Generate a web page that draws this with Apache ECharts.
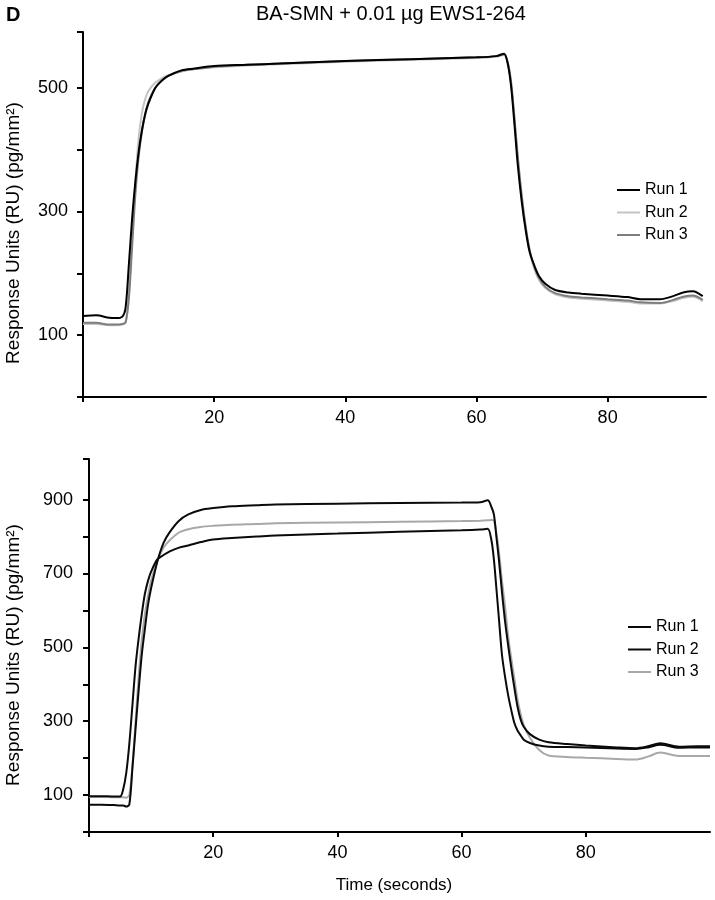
<!DOCTYPE html>
<html>
<head>
<meta charset="utf-8">
<script src="https://cdn.jsdelivr.net/npm/echarts@6/dist/echarts.min.js"></script>
<style>
html,body{margin:0;padding:0;background:#fff;}
#chart{width:715px;height:900px;}
</style>
</head>
<body>
<div id="chart"></div>
<script>
// ---------- DATA ----------
const titleText = 'BA-SMN + 0.01 \u00b5g EWS1-264';
const panelLetter = 'D';
const yAxisTitle = 'Response Units (RU) (pg/mm\u00b2)';
const xAxisTitle = 'Time (seconds)';
const runNames = ['Run 1', 'Run 2', 'Run 3'];

const xTickValues = [0, 20, 40, 60, 80];
const xLabelValues = [20, 40, 60, 80];
const topYTicks = [0, 100, 200, 300, 400, 500, 590];
const topYLabels = [100, 300, 500];
const botYTicks = [0, 100, 200, 300, 400, 500, 600, 700, 800, 900, 1010];
const botYLabels = [100, 300, 500, 700, 900];

// Top panel
const topTime = [0, 2, 4, 5, 6, 6.5, 7, 7.5, 8, 8.5, 9, 9.5, 10, 11, 12, 13, 15, 17, 20, 25, 30, 40, 50, 60, 63, 64.2, 64.8, 65.3, 65.8, 66.3, 66.9, 67.5, 68.1, 68.8, 69.5, 70.5, 72, 74, 76, 80, 83, 85, 88, 90, 91.5, 93, 94.5];
const topRun1 = [131, 132, 128, 127.5, 130, 145, 215, 290, 350, 397, 432, 458, 475, 499, 511, 519, 528, 531, 535, 537, 539, 543, 546, 549, 551, 555, 537, 500, 440, 375, 316, 270, 235, 213, 196, 183, 173, 169, 167, 164, 161.5, 158, 158, 163, 169, 171, 163];
const topRun2 = [118, 118, 116, 116, 117, 120, 165, 260, 350, 420, 460, 482, 495, 508, 515, 520, 526, 530, 533, 536, 538, 542, 545, 548, 550, 553, 538, 505, 448, 385, 322, 272, 234, 208, 190, 176, 166, 161, 159, 156, 154, 151, 151, 155, 160, 162, 155];
const topRun3 = [120, 120, 117, 117, 118, 121, 160, 245, 330, 390, 430, 458, 478, 500, 512, 519, 527, 530, 534, 537, 539, 543, 546, 549, 551, 554, 540, 507, 450, 388, 326, 276, 238, 211, 193, 178, 168, 163, 161, 158, 156, 153, 152, 157, 162, 164, 157];

// Bottom panel
const botTime = [0, 2, 4, 5, 5.5, 6, 6.5, 7, 7.5, 8, 8.5, 9, 9.5, 10, 11, 12, 13, 14.5, 16, 18, 20, 23, 27, 30, 40, 50, 60, 63, 64.2, 64.8, 65.2, 65.6, 66, 66.5, 67, 67.5, 68, 68.5, 69, 69.5, 70, 71, 72.5, 74, 77, 80, 85, 88, 90, 92, 95, 98, 100];
const botRun1 = [74, 74, 73, 72, 72, 69, 75, 175, 280, 385, 480, 550, 615, 660, 732, 783, 812, 843, 860, 872, 877, 882, 885, 887, 889, 891, 892, 893, 898, 880, 860, 800, 738, 650, 570, 505, 445, 390, 340, 305, 285, 265, 250, 243, 238, 234, 229, 227, 232, 240, 231, 232, 232];
const botRun2 = [97, 97, 96, 96, 115, 160, 240, 345, 450, 525, 590, 645, 680, 705, 738, 750, 760, 770, 776, 785, 792, 796, 800, 803, 808, 813, 817, 819, 821, 790, 738, 660, 580, 480, 420, 370, 330, 295, 275, 262, 250, 241, 234, 231, 230, 229, 226, 225, 229, 236, 228, 229, 229];
const botRun3 = [95, 95, 94, 94, 94, 93, 100, 180, 300, 420, 520, 590, 640, 680, 735, 770, 790, 811, 820, 826, 829, 832, 834, 836, 838, 840, 842, 843, 844, 845, 843, 810, 760, 680, 610, 530, 470, 415, 360, 320, 290, 255, 222, 207, 203, 201, 198, 196, 204, 215, 206, 206, 206];

// ---------- BUILD ----------
const zip = (t, v) => t.map((x, i) => [x, v[i]]);
const FONT = 'Liberation Sans, Arial, Helvetica, sans-serif';

const topColors = ['#000000', '#c4c4c4', '#7d7d7d'];
const botColors = ['#0a0a0a', '#0a0a0a', '#a8a8a8'];
const botNames = runNames.map(n => n + ' '); // distinct series names for lower panel

function axisCommon() {
  return {
    type: 'value',
    splitLine: { show: false },
    axisLine: { show: true, onZero: false, lineStyle: { color: '#000', width: 2 } },
    axisTick: { show: true, length: 5, lineStyle: { color: '#000', width: 2 } },
    axisLabel: { color: '#000', fontFamily: FONT, fontSize: 18 }
  };
}

function mkX(idx, max) {
  const a = axisCommon();
  a.gridIndex = idx; a.min = 0; a.max = max;
  a.axisTick.customValues = xTickValues;
  a.axisLabel.customValues = xLabelValues;
  a.axisLabel.margin = 12;
  return a;
}
function mkY(idx, max, ticks, labels, margin) {
  const a = axisCommon();
  a.gridIndex = idx; a.min = 0; a.max = max;
  a.axisTick.customValues = ticks;
  a.axisTick.length = 6;
  a.axisLabel.customValues = labels;
  a.axisLabel.margin = margin;
  return a;
}

const series = [];
[topRun1, topRun2, topRun3].forEach((d, i) => {
  series.push({
    name: runNames[i], type: 'line', xAxisIndex: 0, yAxisIndex: 0,
    data: zip(topTime, d), showSymbol: false, smooth: 0.3,
    color: topColors[i],
    lineStyle: { color: topColors[i], width: 2 },
    itemStyle: { color: topColors[i] },
    z: [5, 3, 4][i]
  });
});
[botRun1, botRun2, botRun3].forEach((d, i) => {
  series.push({
    name: botNames[i], type: 'line', xAxisIndex: 1, yAxisIndex: 1,
    data: zip(botTime, d), showSymbol: false, smooth: 0.3,
    color: botColors[i],
    lineStyle: { color: botColors[i], width: 2 },
    itemStyle: { color: botColors[i] },
    z: [4, 4, 3][i]
  });
});

const legendCommon = {
  orient: 'vertical', icon: 'rect', itemWidth: 23, itemHeight: 2, itemGap: 6.5,
  selectedMode: false, padding: 0,
  formatter: n => n.trim(),
  textStyle: { color: '#000', fontFamily: FONT, fontSize: 16 }
};

const option = {
  animation: false,
  backgroundColor: '#fff',
  grid: [
    { left: 83, top: 32, right: 9, height: 365 },
    { left: 89, top: 459, right: 5, height: 373 }
  ],
  xAxis: [mkX(0, 95), mkX(1, 100)],
  yAxis: [mkY(0, 590, topYTicks, topYLabels, 15), mkY(1, 1010, botYTicks, botYLabels, 16)],
  legend: [
    Object.assign({}, legendCommon, { left: 617, top: 182, data: runNames }),
    Object.assign({}, legendCommon, { left: 628, top: 619, data: botNames })
  ],
  series: series,
  graphic: [
    { type: 'text', left: 6, top: 5, style: { text: panelLetter, font: 'bold 20px ' + FONT, fill: '#000' } },
    { type: 'text', x: 391, y: 14, style: { text: titleText, font: '20px ' + FONT, fill: '#000', align: 'center', verticalAlign: 'middle' } },
    { type: 'text', x: 14, y: 233, rotation: Math.PI / 2, style: { text: yAxisTitle, font: '19px ' + FONT, fill: '#000', align: 'center', verticalAlign: 'middle' } },
    { type: 'text', x: 14, y: 655, rotation: Math.PI / 2, style: { text: yAxisTitle, font: '19px ' + FONT, fill: '#000', align: 'center', verticalAlign: 'middle' } },
    { type: 'text', x: 394, y: 885, style: { text: xAxisTitle, font: '17px ' + FONT, fill: '#000', align: 'center', verticalAlign: 'middle' } }
  ]
};

const chart = echarts.init(document.getElementById('chart'), null, { renderer: 'canvas' });
chart.setOption(option);
</script>
</body>
</html>
